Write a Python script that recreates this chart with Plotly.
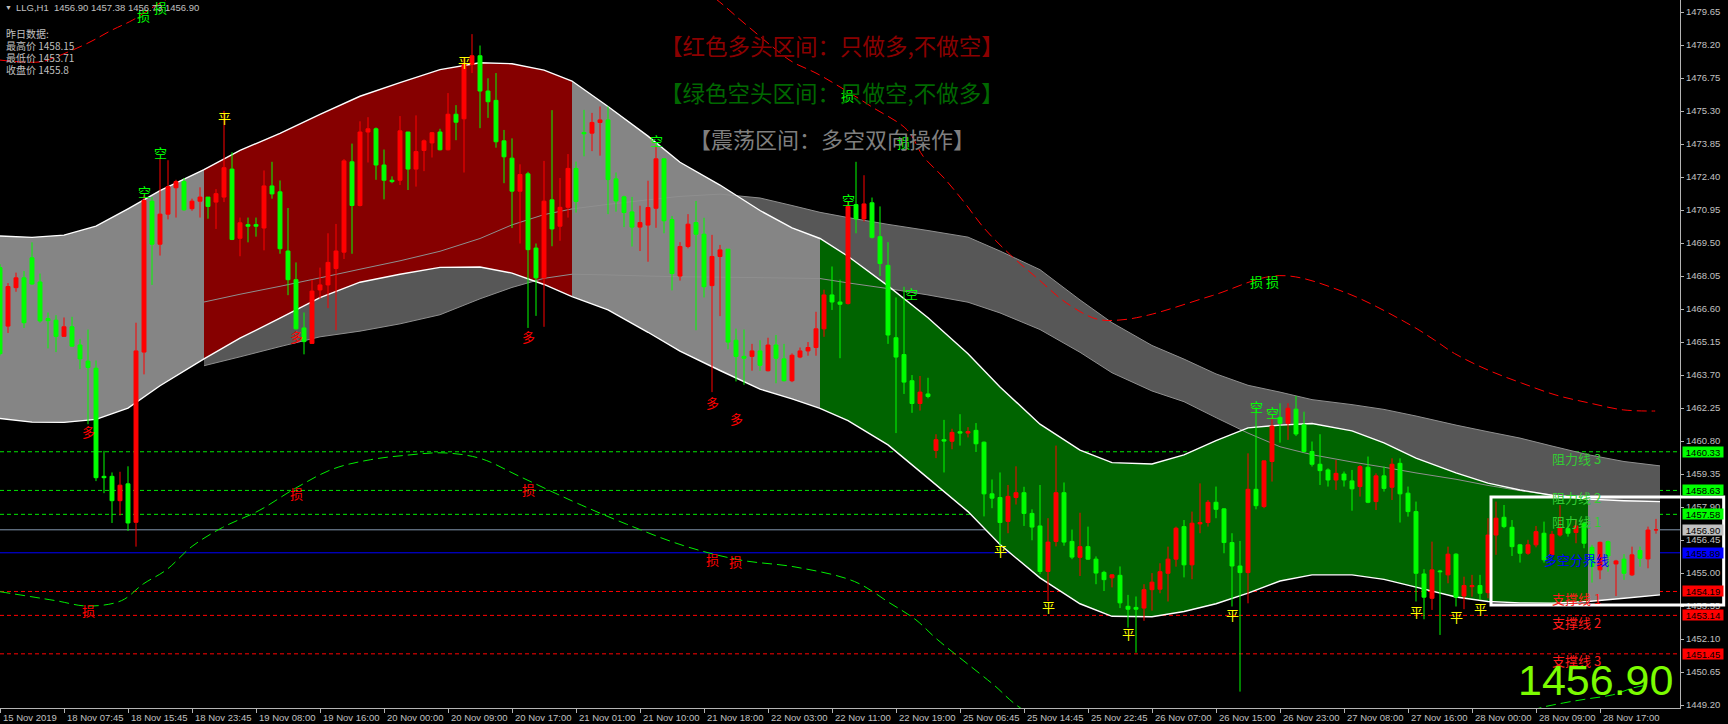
import numpy as np
import plotly.graph_objects as go

# ---------------- text content ----------------
symbol_header = "LLG,H1  1456.90 1457.38 1456.73 1456.90"
prev_day_lines = ["昨日数据:", "最高价 1458.15", "最低价 1453.71", "收盘价 1455.8"]
legend_texts = ["【红色多头区间：只做多,不做空】", "【绿色空头区间：只做空,不做多】", "【震荡区间：多空双向操作】"]
legend_colors = ["#8b0000", "#006800", "#7f7f7f"]
last_price_text = "1456.90"

time_labels = ["15 Nov 2019", "18 Nov 07:45", "18 Nov 15:45", "18 Nov 23:45", "19 Nov 08:00",
               "19 Nov 16:00", "20 Nov 00:00", "20 Nov 09:00", "20 Nov 17:00", "21 Nov 01:00",
               "21 Nov 10:00", "21 Nov 18:00", "22 Nov 03:00", "22 Nov 11:00", "22 Nov 19:00",
               "25 Nov 06:45", "25 Nov 14:45", "25 Nov 22:45", "26 Nov 07:00", "26 Nov 15:00",
               "26 Nov 23:00", "27 Nov 08:00", "27 Nov 16:00", "28 Nov 00:00", "28 Nov 09:00",
               "28 Nov 17:00"]
time_label_bars = [0, 8, 16, 24, 32, 40, 48, 56, 64, 72, 80, 88, 96, 104, 112, 120, 128, 136,
                   144, 152, 160, 168, 176, 184, 192, 200]

price_ticks = [1479.65, 1478.20, 1476.75, 1475.30, 1473.85, 1472.40, 1470.95, 1469.50, 1468.05,
               1466.60, 1465.15, 1463.70, 1462.25, 1460.80, 1459.35, 1457.90, 1456.45, 1455.00,
               1453.55, 1452.10, 1450.65, 1449.20]

# ---------------- OHLC (H1 bars) ----------------
opens = [1468.42, 1465.85, 1467.54, 1467.97, 1468.85, 1467.79, 1466.18, 1466.11, 1465.40, 1465.82,
         1465.02, 1464.31, 1464.00, 1459.25, 1459.25, 1458.18, 1458.92, 1457.23, 1464.71, 1471.34,
         1469.45, 1470.77, 1471.93, 1472.20, 1471.01, 1471.34, 1471.52, 1471.30, 1471.52, 1472.75,
         1469.71, 1470.31, 1470.31, 1470.16, 1472.01, 1471.75, 1469.15, 1467.89, 1465.77, 1465.09,
         1467.44, 1467.66, 1468.38, 1469.10, 1473.07, 1471.15, 1474.38, 1474.52, 1472.93, 1472.26,
         1472.26, 1474.38, 1472.75, 1473.57, 1473.90, 1474.38, 1473.60, 1475.16, 1474.96, 1477.35,
         1477.73, 1476.18, 1475.77, 1473.99, 1473.23, 1471.78, 1472.54, 1469.28, 1467.97, 1471.40,
         1470.24, 1471.07, 1472.78, 1474.36, 1474.33, 1474.80, 1474.91, 1472.32, 1471.53, 1470.87,
         1470.20, 1470.29, 1471.03, 1473.20, 1470.53, 1468.05, 1469.35, 1470.40, 1469.89, 1467.63,
         1468.91, 1469.23, 1465.23, 1464.52, 1464.52, 1464.76, 1463.89, 1465.02, 1464.41, 1463.45,
         1464.49, 1464.76, 1464.91, 1465.73, 1467.22, 1466.91, 1466.84, 1471.19, 1470.56, 1471.27,
         1469.78, 1468.52, 1465.34, 1464.60, 1463.45, 1462.45, 1462.87, 1460.39, 1460.86, 1460.79,
         1461.21, 1461.15, 1461.27, 1460.75, 1458.48, 1458.32, 1457.27, 1458.32, 1458.53, 1457.62,
         1457.07, 1455.07, 1456.39, 1458.53, 1456.39, 1455.69, 1456.16, 1455.61, 1455.03, 1454.79,
         1454.90, 1453.54, 1453.49, 1453.46, 1454.27, 1454.29, 1454.99, 1455.61, 1457.04, 1455.36,
         1457.16, 1457.22, 1458.11, 1457.82, 1456.34, 1455.31, 1455.02, 1458.68, 1457.92, 1459.90,
         1461.84, 1461.58, 1462.20, 1461.51, 1460.34, 1459.78, 1459.53, 1459.09, 1459.35, 1459.05,
         1458.80, 1459.65, 1458.14, 1459.27, 1458.77, 1459.82, 1458.51, 1457.70, 1454.96, 1453.89,
         1455.09, 1454.92, 1455.83, 1453.99, 1454.40, 1454.45, 1454.14, 1456.67, 1457.45, 1457.01,
         1456.24, 1455.87, 1456.24, 1456.75, 1455.80, 1456.67, 1456.95, 1456.78, 1457.19, 1456.13,
         1455.14, 1456.38, 1455.40, 1455.61, 1454.92, 1455.99, 1455.62, 1456.90]
highs = [1468.57, 1467.74, 1468.20, 1468.27, 1469.53, 1468.16, 1466.45, 1466.33, 1466.23, 1466.26,
         1465.29, 1465.70, 1464.34, 1460.37, 1459.42, 1459.45, 1459.69, 1466.00, 1471.60, 1471.52,
         1473.19, 1473.14, 1472.28, 1472.36, 1471.45, 1471.95, 1471.52, 1471.87, 1475.31, 1473.49,
         1470.62, 1470.62, 1470.62, 1472.69, 1473.07, 1472.25, 1471.04, 1468.65, 1466.45, 1467.89,
         1468.42, 1469.93, 1470.34, 1473.19, 1473.87, 1474.85, 1475.03, 1474.58, 1473.61, 1472.43,
         1475.08, 1474.38, 1475.11, 1474.05, 1474.38, 1474.52, 1476.09, 1475.56, 1477.62, 1478.68,
         1478.18, 1476.74, 1476.97, 1474.47, 1474.10, 1472.96, 1472.63, 1469.48, 1473.11, 1475.34,
         1472.36, 1473.41, 1473.08, 1475.35, 1475.22, 1475.50, 1475.50, 1472.60, 1471.58, 1471.53,
         1471.14, 1472.24, 1473.78, 1473.23, 1470.69, 1469.54, 1470.77, 1471.35, 1470.61, 1469.86,
         1469.42, 1469.23, 1465.74, 1465.70, 1465.07, 1465.23, 1465.34, 1465.46, 1465.07, 1464.65,
         1464.91, 1465.15, 1466.48, 1467.45, 1468.47, 1467.89, 1471.35, 1473.07, 1472.48, 1471.50,
         1471.11, 1469.54, 1467.11, 1467.58, 1463.70, 1463.66, 1463.58, 1461.10, 1461.73, 1461.34,
         1461.98, 1461.41, 1461.59, 1460.78, 1459.11, 1459.42, 1458.87, 1459.69, 1458.79, 1457.80,
         1458.87, 1457.41, 1460.60, 1458.98, 1456.91, 1457.65, 1457.04, 1455.73, 1455.10, 1454.95,
         1455.29, 1454.04, 1453.97, 1454.51, 1455.00, 1455.43, 1456.16, 1457.04, 1457.33, 1457.70,
         1458.94, 1458.21, 1458.80, 1457.85, 1456.75, 1456.41, 1460.26, 1462.31, 1459.94, 1461.84,
         1462.46, 1462.46, 1462.78, 1462.09, 1460.78, 1461.10, 1459.60, 1459.97, 1459.46, 1459.53,
         1459.75, 1460.12, 1459.38, 1459.68, 1460.04, 1460.04, 1458.80, 1458.14, 1455.17, 1456.38,
         1455.14, 1456.16, 1455.87, 1454.84, 1454.92, 1454.92, 1457.41, 1458.14, 1457.99, 1457.33,
         1456.28, 1456.46, 1457.07, 1457.26, 1456.85, 1457.99, 1457.33, 1457.33, 1457.26, 1456.24,
         1456.38, 1456.43, 1455.58, 1455.83, 1456.16, 1456.16, 1457.04, 1457.38]
lows = [1464.56, 1465.55, 1467.36, 1465.77, 1467.66, 1466.00, 1464.87, 1464.71, 1465.40, 1464.94,
        1463.96, 1461.54, 1459.04, 1458.51, 1457.20, 1457.53, 1456.85, 1456.16, 1463.73, 1467.66,
        1468.95, 1470.54, 1470.62, 1470.92, 1470.92, 1470.62, 1470.57, 1470.12, 1471.30, 1469.63,
        1468.92, 1469.53, 1469.78, 1469.18, 1471.45, 1469.03, 1467.21, 1465.70, 1464.61, 1465.09,
        1467.06, 1466.64, 1465.67, 1468.80, 1469.03, 1471.11, 1473.04, 1472.28, 1471.42, 1472.13,
        1472.05, 1471.83, 1471.98, 1472.66, 1473.26, 1473.57, 1473.57, 1474.02, 1472.60, 1476.97,
        1474.55, 1475.00, 1473.69, 1472.13, 1470.16, 1469.48, 1465.77, 1466.30, 1465.82, 1469.36,
        1469.60, 1470.62, 1470.84, 1473.31, 1473.54, 1473.34, 1470.77, 1470.88, 1470.20, 1469.35,
        1469.15, 1468.68, 1470.17, 1469.93, 1467.42, 1467.85, 1469.27, 1465.67, 1467.11, 1462.95,
        1466.29, 1464.83, 1463.42, 1463.27, 1463.89, 1463.89, 1463.86, 1463.34, 1463.42, 1463.39,
        1464.44, 1464.55, 1464.55, 1465.38, 1466.56, 1464.44, 1466.80, 1469.93, 1470.44, 1469.70,
        1468.05, 1465.07, 1461.15, 1462.87, 1462.04, 1462.14, 1462.68, 1460.05, 1459.42, 1460.44,
        1460.60, 1460.96, 1460.32, 1457.49, 1457.85, 1455.89, 1456.75, 1458.01, 1457.07, 1456.44,
        1454.95, 1453.77, 1456.17, 1456.20, 1455.61, 1454.87, 1455.58, 1454.51, 1454.21, 1454.37,
        1453.46, 1452.60, 1451.50, 1452.90, 1453.35, 1454.11, 1453.75, 1455.28, 1454.81, 1454.73,
        1456.75, 1457.04, 1457.41, 1455.87, 1453.53, 1449.79, 1453.67, 1457.80, 1457.85, 1459.02,
        1460.73, 1460.85, 1461.02, 1460.29, 1459.68, 1458.87, 1458.80, 1458.65, 1458.80, 1457.74,
        1458.36, 1458.07, 1457.77, 1458.58, 1458.21, 1457.22, 1457.48, 1453.75, 1452.97, 1453.38,
        1452.28, 1454.55, 1453.53, 1453.41, 1453.96, 1453.82, 1453.89, 1455.80, 1456.97, 1455.75,
        1455.46, 1455.80, 1456.13, 1455.46, 1455.75, 1456.60, 1456.60, 1456.31, 1456.09, 1454.58,
        1454.73, 1455.06, 1453.99, 1454.70, 1454.87, 1455.28, 1455.21, 1456.73]
closes = [1464.64, 1467.59, 1467.97, 1466.00, 1467.70, 1466.08, 1466.09, 1465.40, 1465.82, 1464.97,
          1464.41, 1464.03, 1459.19, 1459.19, 1458.18, 1458.86, 1457.20, 1464.76, 1471.37, 1469.45,
          1470.77, 1471.98, 1472.20, 1470.96, 1471.34, 1471.52, 1471.11, 1471.67, 1472.81, 1469.66,
          1470.39, 1470.24, 1470.24, 1472.01, 1471.66, 1469.25, 1467.89, 1465.73, 1465.17, 1467.39,
          1467.66, 1468.65, 1469.15, 1473.11, 1471.15, 1474.38, 1474.52, 1472.93, 1472.26, 1472.20,
          1474.43, 1472.75, 1473.52, 1473.99, 1474.35, 1473.60, 1475.16, 1474.81, 1477.35, 1477.73,
          1476.18, 1475.71, 1473.95, 1473.29, 1471.78, 1472.51, 1469.21, 1467.97, 1471.34, 1470.12,
          1471.07, 1472.78, 1471.33, 1474.30, 1474.80, 1474.91, 1472.29, 1471.35, 1470.84, 1470.20,
          1470.40, 1471.06, 1473.20, 1470.48, 1468.16, 1469.35, 1470.33, 1469.89, 1467.58, 1468.91,
          1469.20, 1465.15, 1464.52, 1464.44, 1464.76, 1464.13, 1465.02, 1464.44, 1463.45, 1464.57,
          1464.76, 1464.91, 1465.73, 1467.22, 1466.91, 1466.81, 1471.11, 1470.56, 1471.22, 1469.75,
          1468.60, 1465.46, 1464.49, 1463.39, 1462.45, 1462.95, 1462.76, 1460.86, 1460.80, 1461.18,
          1461.15, 1461.22, 1460.68, 1458.48, 1458.29, 1457.22, 1458.37, 1458.53, 1457.62, 1457.02,
          1455.07, 1456.36, 1458.53, 1456.36, 1455.70, 1456.16, 1455.61, 1455.00, 1454.71, 1454.92,
          1453.69, 1453.41, 1453.41, 1454.27, 1454.60, 1455.06, 1455.61, 1456.97, 1455.36, 1457.19,
          1457.22, 1458.11, 1457.80, 1456.34, 1455.31, 1455.02, 1458.68, 1457.96, 1459.93, 1461.46,
          1461.58, 1462.24, 1461.11, 1460.34, 1459.78, 1459.50, 1459.09, 1459.38, 1459.09, 1458.70,
          1459.68, 1458.11, 1459.27, 1458.72, 1459.78, 1458.48, 1457.70, 1454.99, 1453.94, 1455.14,
          1455.06, 1455.83, 1453.94, 1454.45, 1454.45, 1454.11, 1456.67, 1457.41, 1457.04, 1456.16,
          1455.87, 1456.24, 1456.82, 1455.58, 1456.70, 1457.00, 1456.75, 1457.07, 1456.31, 1455.28,
          1456.35, 1455.75, 1455.53, 1454.99, 1455.80, 1455.65, 1456.89, 1456.90]
bar_index = list(range(len(opens)))

# ---------------- main channel (coloured zones) ----------------
band_x = [0, 4, 8, 12, 16, 20, 25.5, 30, 35, 40, 45, 50, 55, 60, 64, 68, 71.5, 76, 81, 85, 90, 95,
          99, 102.5, 106, 111, 116, 121, 125, 130, 135, 139, 144, 148, 152, 156, 160, 164, 169, 173,
          177, 182, 186, 190, 194, 198.5, 203, 207.5]
band_upper = [1469.81, 1469.75, 1469.85, 1470.24, 1471.00, 1471.80, 1472.73, 1473.57, 1474.32,
              1475.15, 1475.95, 1476.55, 1477.12, 1477.42, 1477.38, 1477.10, 1476.62, 1475.50,
              1474.20, 1473.05, 1472.05, 1470.93, 1470.17, 1469.70, 1468.92, 1467.62, 1466.22,
              1464.64, 1463.18, 1461.54, 1460.40, 1459.85, 1459.79, 1460.19, 1460.82, 1461.38,
              1461.50, 1461.57, 1461.25, 1460.72, 1460.05, 1459.40, 1458.95, 1458.65, 1458.42,
              1458.25, 1458.18, 1458.14]
band_lower = [1461.79, 1461.63, 1461.62, 1461.75, 1462.25, 1463.23, 1464.41, 1465.32, 1466.20,
              1467.10, 1467.78, 1468.13, 1468.43, 1468.45, 1468.18, 1467.68, 1467.15, 1466.56,
              1465.58, 1464.75, 1463.90, 1463.08, 1462.65, 1462.24, 1461.70, 1460.63, 1459.17,
              1457.70, 1456.25, 1454.79, 1453.65, 1453.10, 1453.08, 1453.31, 1453.65, 1454.12,
              1454.65, 1454.92, 1454.92, 1454.72, 1454.38, 1453.95, 1453.75, 1453.69, 1453.68,
              1453.75, 1453.89, 1454.04]
zone_bounds = [0, 25.5, 71.5, 102.5, 198.5, 207.5]
zone_colors = ["#858585", "#860000", "#858585", "#006400", "#858585"]

# ---------------- secondary (dark grey) cloud ----------------
cloud_x = [25.5, 30, 35, 40, 45, 50, 55, 60, 64, 68, 71.5, 76, 81, 85, 90, 95, 99, 102.5, 106, 111,
           116, 121, 125, 130, 135, 139, 144, 148, 152, 156, 160, 164, 169, 173, 177, 182, 186, 190,
           194, 198.5, 203, 207.5]
cloud_upper = [1466.91, 1467.25, 1467.60, 1467.97, 1468.35, 1468.72, 1469.14, 1469.70, 1470.30,
               1470.75, 1471.00, 1471.20, 1471.40, 1471.55, 1471.65, 1471.48, 1471.15, 1470.85,
               1470.62, 1470.32, 1470.05, 1469.76, 1469.15, 1468.33, 1467.00, 1466.00, 1465.00,
               1464.40, 1463.75, 1463.25, 1462.95, 1462.62, 1462.40, 1462.19, 1461.90, 1461.50,
               1461.21, 1460.93, 1460.58, 1460.20, 1459.90, 1459.71]
cloud_lower = [1464.11, 1464.50, 1464.95, 1465.38, 1465.63, 1465.95, 1466.35, 1467.05, 1467.55,
               1467.95, 1468.13, 1468.10, 1468.05, 1468.02, 1468.00, 1467.98, 1467.96, 1467.94,
               1467.75, 1467.50, 1467.22, 1466.90, 1466.43, 1465.70, 1464.70, 1463.80, 1463.00,
               1462.53, 1461.83, 1461.15, 1460.55, 1460.20, 1459.88, 1459.65, 1459.40, 1459.12,
               1458.85, 1458.62, 1458.43, 1458.25, 1458.18, 1458.14]

# ---------------- dashed indicator curves ----------------
red_curve_x = [0, 5, 7, 11, 14, 16.6, 20, 30, 45, 60, 75, 88, 93, 96.6, 99, 102, 105, 109, 113.4,
               115.4, 118, 120.6, 123, 126.3, 129.6, 133.3, 137.1, 140, 143.6, 151.6, 159.9, 168,
               176.3, 179.3, 181.8, 186, 190.2, 194.5, 198.7, 202.9, 206.9]
red_curve_y = [1477.54, 1477.46, 1477.68, 1478.29, 1478.86, 1479.30, 1480.05, 1481.80, 1483.50,
               1484.00, 1483.00, 1480.60, 1479.17, 1478.11, 1477.47, 1476.97, 1476.36, 1475.48,
               1474.47, 1473.31, 1472.36, 1471.26, 1470.16, 1468.98, 1467.97, 1466.87, 1466.16,
               1466.12, 1466.34, 1467.20, 1468.07, 1467.35, 1465.90, 1465.24, 1464.65, 1463.92,
               1463.35, 1462.82, 1462.47, 1462.17, 1462.12]
green_curve_x = [0, 6.9, 11, 15.2, 17.9, 20.8, 24, 27.8, 32.4, 37, 41.6, 46.3, 50.9, 55.5, 60.1,
                 64.8, 69.4, 72.2, 78.3, 85.4, 92.4, 99.5, 106.8, 111.2, 114.5, 117.1, 124, 128.1,
                 145, 160, 175, 188, 192.1, 195.4, 198.4, 201.6, 204.1, 205.9]
green_curve_y = [1454.18, 1453.79, 1453.55, 1453.79, 1454.52, 1455.14, 1456.17, 1457.00, 1457.75,
                 1458.74, 1459.57, 1459.98, 1460.18, 1460.28, 1460.03, 1459.27, 1458.51, 1458.06,
                 1457.15, 1456.21, 1455.58, 1455.26, 1454.63, 1453.69, 1452.94, 1452.10, 1450.15,
                 1448.95, 1446.50, 1445.80, 1446.80, 1448.40, 1449.03, 1449.29, 1449.47, 1449.65,
                 1449.95, 1450.08]

# ---------------- horizontal levels ----------------
level_values = [1460.33, 1458.63, 1457.58, 1456.90, 1455.89, 1454.19, 1453.14, 1451.45]
level_names = ["阻力线 3", "阻力线 2", "阻力线 1", "", "多空分界线", "支撑线 1", "支撑线 2", "支撑线 3"]
level_line_colors = ["#00e600", "#00e600", "#00e600", "#8497b0", "#0000ff", "#ff0000", "#ff0000", "#ff0000"]
level_text_colors = ["#33cc33", "#33cc33", "#33cc33", "#8497b0", "#0000ff", "#ff1a1a", "#ff1a1a", "#ff1a1a"]
level_tag_colors = ["#00ff00", "#00ff00", "#00ff00", "#c0c0c0", "#0000ff", "#ff0000", "#ff0000", "#ff0000"]
level_dashes = ["dash", "dash", "dash", "solid", "solid", "dash", "dash", "dash"]
level_label_bar = 197

# ---------------- signal marks ----------------
mark_text = ["损", "损", "空", "空", "平", "平", "多", "多", "多", "损", "损", "损", "空", "损", "损", "空",
             "空", "多", "多", "损", "损", "平", "平", "平", "损", "损", "空", "空", "平", "平", "平", "平"]
mark_bar = [17.9, 20, 20, 18, 28, 58, 11, 37, 66, 37, 66, 11, 82, 105.9, 112.9, 106, 113.9, 89, 92,
            89, 91.9, 125, 131, 141, 157, 159, 157, 159, 154, 177, 182, 185]
mark_price = [1479.52, 1479.83, 1473.49, 1471.75, 1475.00, 1477.47, 1461.23, 1465.39, 1465.39,
              1458.51, 1458.66, 1453.36, 1474.01, 1475.97, 1473.93, 1471.42, 1467.27, 1462.48,
              1461.77, 1455.58, 1455.50, 1455.97, 1453.54, 1452.34, 1467.83, 1467.83, 1462.31,
              1462.05, 1453.16, 1453.31, 1453.09, 1453.45]
mark_color = ["#00ff00", "#00ff00", "#00ff00", "#00ff00", "#ffff00", "#ffff00", "#ff0000", "#ff0000",
              "#ff0000", "#ff0000", "#ff0000", "#ff0000", "#00ff00", "#00ff00", "#00ff00", "#00ff00",
              "#00ff00", "#ff0000", "#ff0000", "#ff0000", "#ff0000", "#ffff00", "#ffff00", "#ffff00",
              "#00ff00", "#00ff00", "#00ff00", "#00ff00", "#ffff00", "#ffff00", "#ffff00", "#ffff00"]

# range box
box_left_paper = 0.8875
box_right_paper = 1.026
box_top = 1458.34
box_bottom = 1453.60

x_range = [0, 210]
y_range = [1449.07, 1480.18]

CJK = "Noto Sans CJK SC"
SANS = "Liberation Sans, Arial, sans-serif"


def band_path(xs, up, lo, a, b):
    xi = [a] + [x for x in xs if a < x < b] + [b]
    u = np.interp(xi, xs, up)
    l = np.interp(xi, xs, lo)
    pts = list(zip(xi, u)) + list(zip(xi[::-1], l[::-1]))
    return "M " + " L ".join(f"{x:.3f},{y:.3f}" for x, y in pts) + " Z"


def line_path(xs, ys):
    return "M " + " L ".join(f"{x:.3f},{y:.3f}" for x, y in zip(xs, ys))


shapes = []
# dark cloud
shapes.append(dict(type="path", xref="x", yref="y", layer="below",
                   path=band_path(cloud_x, cloud_upper, cloud_lower, cloud_x[0], cloud_x[-1]),
                   fillcolor="#575757", line=dict(width=0)))
# coloured zones of main channel
for i, col in enumerate(zone_colors):
    shapes.append(dict(type="path", xref="x", yref="y", layer="below",
                       path=band_path(band_x, band_upper, band_lower, zone_bounds[i], zone_bounds[i + 1]),
                       fillcolor=col, line=dict(width=0)))
# cloud edges
for arr in (cloud_upper, cloud_lower):
    shapes.append(dict(type="path", xref="x", yref="y", layer="below",
                       path=line_path(cloud_x, arr), line=dict(color="#8f8f8f", width=1)))
# channel edges
for arr in (band_upper, band_lower):
    shapes.append(dict(type="path", xref="x", yref="y", layer="below",
                       path=line_path(band_x, arr), line=dict(color="#ffffff", width=1.4)))
# horizontal levels
for v, c, d in zip(level_values, level_line_colors, level_dashes):
    shapes.append(dict(type="line", xref="paper", yref="y", layer="below", x0=0, x1=1, y0=v, y1=v,
                       line=dict(color=c, width=1, dash=("4px,3px" if d == "dash" else "solid"))))
# white range box
shapes.append(dict(type="rect", xref="paper", yref="y", layer="above",
                   x0=box_left_paper, x1=box_right_paper, y0=box_bottom, y1=box_top,
                   line=dict(color="#ffffff", width=3), fillcolor="rgba(0,0,0,0)"))

fig = go.Figure()
fig.add_trace(go.Candlestick(
    x=bar_index, open=opens, high=highs, low=lows, close=closes,
    increasing=dict(line=dict(color="#ff0000", width=1), fillcolor="#ff0000"),
    decreasing=dict(line=dict(color="#00ff00", width=1), fillcolor="#00ff00"),
    whiskerwidth=0, showlegend=False, hoverinfo="skip"))
fig.add_trace(go.Scatter(x=red_curve_x, y=red_curve_y, mode="lines", showlegend=False,
                         line=dict(color="#ff0000", width=1, dash="10px,5px", shape="spline"),
                         hoverinfo="skip"))
fig.add_trace(go.Scatter(x=green_curve_x, y=green_curve_y, mode="lines", showlegend=False,
                         line=dict(color="#00ee00", width=1, dash="10px,5px", shape="spline"),
                         hoverinfo="skip"))

ann = []
# time labels (left aligned at tick, MT4 style)
for b, t in zip(time_label_bars, time_labels):
    ann.append(dict(x=b, xref="x", y=0, yref="paper", yshift=-9, xanchor="left", xshift=1,
                    yanchor="middle", text=t, showarrow=False,
                    font=dict(family=SANS, size=9.5, color="#c0c0c0")))
# level names + price tags
for v, n, tc, bg in zip(level_values, level_names, level_text_colors, level_tag_colors):
    if n:
        ann.append(dict(x=level_label_bar, xref="x", y=v, yref="y", yshift=-7, xanchor="center",
                        yanchor="middle", text=n, showarrow=False,
                        font=dict(family=CJK, size=13, color=tc)))
    ann.append(dict(x=1, xref="paper", y=v, yref="y", xanchor="left", xshift=2, yanchor="middle",
                    text=f"{v:.2f}", showarrow=False, bgcolor=bg, width=40, height=10, borderpad=0,
                    align="center", font=dict(family=SANS, size=9.5, color="#000000")))
# signal marks
for t, b, p, c in zip(mark_text, mark_bar, mark_price, mark_color):
    ann.append(dict(x=b, xref="x", y=p, yref="y", text=t, showarrow=False, xanchor="center",
                    yanchor="middle", font=dict(family=CJK, size=13, color=c)))
# header
ann.append(dict(x=0, xref="paper", y=1, yref="paper", xshift=3, yshift=-7, xanchor="left",
                yanchor="middle", text="▼", showarrow=False,
                font=dict(family=SANS, size=7, color="#c0c0c0")))
ann.append(dict(x=0, xref="paper", y=1, yref="paper", xshift=14, yshift=-7, xanchor="left",
                yanchor="middle", text=symbol_header, showarrow=False,
                font=dict(family=SANS, size=9.5, color="#c0c0c0")))
for k, line in enumerate(prev_day_lines):
    ann.append(dict(x=0, xref="paper", y=1, yref="paper", xshift=4, yshift=-(33 + 12 * k),
                    xanchor="left", yanchor="middle", text=line, showarrow=False,
                    font=dict(family=CJK, size=10, color="#c0c0c0")))
# centre legend
legend_sizes = [22.5, 22.5, 22]
for k, (t, c) in enumerate(zip(legend_texts, legend_colors)):
    ann.append(dict(x=0.495, xref="paper", y=1, yref="paper", yshift=-(45 + 46.5 * k),
                    xanchor="center", yanchor="middle", text=t, showarrow=False,
                    font=dict(family=CJK, size=legend_sizes[k], color=c)))
# big last price
ann.append(dict(x=0.997, xref="paper", y=0, yref="paper", yshift=28, xanchor="right",
                yanchor="middle", text=last_price_text, showarrow=False,
                font=dict(family=SANS, size=43, color="#7cfc00")))

fig.update_layout(
    width=1728, height=724,
    margin=dict(l=0, r=48, t=0, b=16, autoexpand=False),
    paper_bgcolor="#000000", plot_bgcolor="#000000",
    shapes=shapes, annotations=ann, showlegend=False,
    xaxis=dict(range=x_range, showgrid=False, zeroline=False, showline=True, linecolor="#b4b4b4",
               linewidth=1, ticks="outside", ticklen=4, tickcolor="#b4b4b4",
               tickvals=time_label_bars, ticktext=[""] * len(time_label_bars),
               rangeslider=dict(visible=False), fixedrange=True),
    yaxis=dict(range=y_range, side="right", showgrid=False, zeroline=False, showline=True,
               linecolor="#b4b4b4", linewidth=1, ticks="outside", ticklen=3, tickcolor="#b4b4b4",
               tickvals=price_ticks, ticktext=[f"{v:.2f}" for v in price_ticks],
               tickfont=dict(family=SANS, size=9.5, color="#c0c0c0"), automargin=False,
               fixedrange=True),
)

fig.write_html("out.html", config={"displayModeBar": False},
               post_script="document.body.style.margin='0';document.body.style.background='#000';")
